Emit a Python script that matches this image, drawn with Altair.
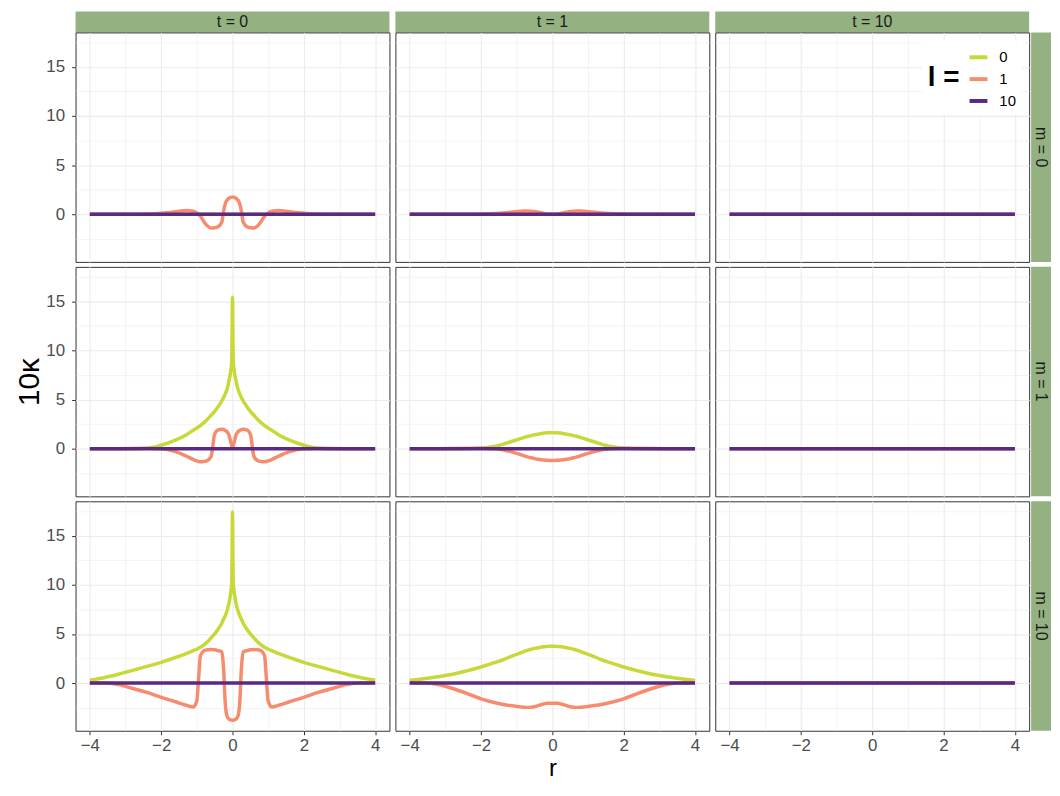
import altair as alt
import pandas as pd

FONT = "Liberation Sans"
GREEN = "#C6D937"
SALMON = "#F68B6D"
PURPLE = "#5A2A82"
STRIP = "#94B181"

m_levels = [0, 1, 10]
t_levels = [0, 1, 10]
l_levels = ["0", "1", "10"]

r_grid = [-4, -3.6, -3.2, -2.8, -2.4, -2.0, -1.6, -1.3, -1.1, -1.0, -0.95, -0.9, -0.8, -0.7, -0.6, -0.5,
          -0.4, -0.3, -0.25, -0.2, -0.15, -0.1, -0.05, -0.02, 0,
          0.02, 0.05, 0.1, 0.15, 0.2, 0.25, 0.3, 0.4, 0.5, 0.6, 0.7, 0.8, 0.9, 0.95, 1.0,
          1.1, 1.3, 1.6, 2.0, 2.4, 2.8, 3.2, 3.6, 4]
r_flat = [-4, 4]
flat = [0, 0]

# m = 0, t = 0, l = 1
m0_t0_l1 = [0, 0, 0, 0, 0.02, 0.1, 0.25, 0.38, 0.3, 0.12, 0.0, -0.2, -0.75, -1.2, -1.4, -1.38,
            -1.25, -0.8, 0.3, 1.1, 1.45, 1.62, 1.72, 1.74, 1.75,
            1.74, 1.72, 1.62, 1.45, 1.1, 0.3, -0.8, -1.25, -1.38, -1.4, -1.2, -0.75, -0.2, 0.0, 0.12,
            0.3, 0.38, 0.25, 0.1, 0.02, 0, 0, 0, 0]
# m = 0, t = 1, l = 1
m0_t1_l1 = [0, 0, 0, 0, 0, 0.02, 0.08, 0.16, 0.23, 0.27, 0.29, 0.3, 0.33, 0.33, 0.31, 0.27,
            0.21, 0.14, 0.1, 0.06, 0.03, 0.01, 0, 0, 0,
            0, 0, 0.01, 0.03, 0.06, 0.1, 0.14, 0.21, 0.27, 0.31, 0.33, 0.33, 0.3, 0.29, 0.27,
            0.23, 0.16, 0.08, 0.02, 0, 0, 0, 0, 0]
# m = 1, t = 0, l = 0
m1_t0_l0 = [0, 0, 0, 0, 0.05, 0.35, 0.87, 1.4, 1.88, 2.1, 2.22, 2.35, 2.65, 3.0, 3.4, 3.8,
            4.3, 4.85, 5.2, 5.6, 6.1, 6.9, 7.9, 9.0, 15.4,
            9.0, 7.9, 6.9, 6.1, 5.6, 5.2, 4.85, 4.3, 3.8, 3.4, 3.0, 2.65, 2.35, 2.22, 2.1,
            1.88, 1.4, 0.87, 0.35, 0.05, 0, 0, 0, 0]
# m = 1, t = 0, l = 1
m1_t0_l1 = [0, 0, 0, 0.01, 0.03, 0.0, -0.3, -0.75, -1.1, -1.25, -1.3, -1.33, -1.3, -1.2, -0.8, 1.5,
            1.9, 1.97, 1.95, 1.85, 1.7, 1.4, 0.7, 0.3, 0.1,
            0.3, 0.7, 1.4, 1.7, 1.85, 1.95, 1.97, 1.9, 1.5, -0.8, -1.2, -1.3, -1.33, -1.3, -1.25,
            -1.1, -0.75, -0.3, 0.0, 0.03, 0.01, 0, 0, 0]
# m = 1, t = 1, l = 0
m1_t1_l0 = [0, 0, 0, 0, 0.01, 0.05, 0.25, 0.55, 0.78, 0.9, 0.96, 1.02, 1.13, 1.24, 1.33, 1.41,
            1.48, 1.54, 1.57, 1.59, 1.61, 1.62, 1.63, 1.63, 1.63,
            1.63, 1.63, 1.62, 1.61, 1.59, 1.57, 1.54, 1.48, 1.41, 1.33, 1.24, 1.13, 1.02, 0.96, 0.9,
            0.78, 0.55, 0.25, 0.05, 0.01, 0, 0, 0, 0]
# m = 1, t = 1, l = 1
m1_t1_l1 = [0, 0, 0, 0.01, 0.03, 0.04, 0.0, -0.18, -0.37, -0.47, -0.53, -0.59, -0.71, -0.83, -0.93, -1.01,
            -1.08, -1.13, -1.15, -1.17, -1.18, -1.19, -1.2, -1.2, -1.2,
            -1.2, -1.2, -1.19, -1.18, -1.17, -1.15, -1.13, -1.08, -1.01, -0.93, -0.83, -0.71, -0.59, -0.53, -0.47,
            -0.37, -0.18, 0.0, 0.04, 0.03, 0.01, 0, 0, 0]
# m = 10, t = 0, l = 0
m10_t0_l0 = [0.3, 0.55, 0.9, 1.3, 1.7, 2.1, 2.6, 3.0, 3.3, 3.45, 3.55, 3.65, 3.9, 4.2, 4.6, 5.0,
             5.5, 6.1, 6.5, 6.9, 7.4, 8.1, 9.2, 10.3, 17.4,
             10.3, 9.2, 8.1, 7.4, 6.9, 6.5, 6.1, 5.5, 5.0, 4.6, 4.2, 3.9, 3.65, 3.55, 3.45,
             3.3, 3.0, 2.6, 2.1, 1.7, 1.3, 0.9, 0.55, 0.3]
# m = 10, t = 0, l = 1
m10_t0_l1 = [0, 0, -0.15, -0.55, -0.95, -1.45, -1.9, -2.25, -2.43, -1.8, 0.5, 2.8, 3.3, 3.4, 3.42, 3.4,
             3.3, 3.2, 1.5, -2.2, -3.4, -3.65, -3.75, -3.78, -3.78,
             -3.78, -3.75, -3.65, -3.4, -2.2, 1.5, 3.2, 3.3, 3.4, 3.42, 3.4, 3.3, 2.8, 0.5, -1.8,
             -2.43, -2.25, -1.9, -1.45, -0.95, -0.55, -0.15, 0, 0]
# m = 10, t = 1, l = 0
m10_t1_l0 = [0.27, 0.45, 0.65, 0.9, 1.25, 1.64, 2.1, 2.5, 2.8, 2.92, 3.0, 3.07, 3.2, 3.33, 3.44, 3.53,
             3.6, 3.66, 3.69, 3.71, 3.73, 3.74, 3.75, 3.75, 3.75,
             3.75, 3.75, 3.74, 3.73, 3.71, 3.69, 3.66, 3.6, 3.53, 3.44, 3.33, 3.2, 3.07, 3.0, 2.92,
             2.8, 2.5, 2.1, 1.64, 1.25, 0.9, 0.65, 0.45, 0.27]
# m = 10, t = 1, l = 1
m10_t1_l1 = [0, 0, -0.15, -0.55, -1.05, -1.6, -2.0, -2.22, -2.32, -2.37, -2.4, -2.42, -2.46, -2.47, -2.45, -2.4,
             -2.3, -2.18, -2.13, -2.09, -2.06, -2.05, -2.04, -2.04, -2.04,
             -2.04, -2.04, -2.05, -2.06, -2.09, -2.13, -2.18, -2.3, -2.4, -2.45, -2.47, -2.46, -2.42, -2.4, -2.37,
             -2.32, -2.22, -2.0, -1.6, -1.05, -0.55, -0.15, 0, 0]

curves = {
    (0, 0, "1"): (r_grid, m0_t0_l1),
    (0, 1, "1"): (r_grid, m0_t1_l1),
    (1, 0, "0"): (r_grid, m1_t0_l0),
    (1, 0, "1"): (r_grid, m1_t0_l1),
    (1, 1, "0"): (r_grid, m1_t1_l0),
    (1, 1, "1"): (r_grid, m1_t1_l1),
    (10, 0, "0"): (r_grid, m10_t0_l0),
    (10, 0, "1"): (r_grid, m10_t0_l1),
    (10, 1, "0"): (r_grid, m10_t1_l0),
    (10, 1, "1"): (r_grid, m10_t1_l1),
}

rows = []
for m in m_levels:
    for t in t_levels:
        for l in l_levels:
            rr, vv = curves.get((m, t, l), (r_flat, flat))
            for i, (a, b) in enumerate(zip(rr, vv)):
                rows.append({"m": m, "t": t, "l": l, "r": a, "v": b, "i": i})
df = pd.DataFrame(rows)

PW, PH = 316, 231
SH = 16  # strip row height (the strip band also covers the 5px gap below it)
XDOM = [-4.4, 4.4]
YDOM = [-4.85, 18.5]
major_x = "datum.value % 2 === 0"
major_y = "datum.value % 5 === 0"

color_scale = alt.Scale(domain=l_levels, range=[GREEN, SALMON, PURPLE])
legend = alt.Legend(
    title="l =", orient="none", legendX=852, legendY=29, titleOrient="left",
    titleFontSize=28, titleFontWeight="bold", titleColor="black", titlePadding=8,
    titleAnchor="middle", titleBaseline="middle",
    symbolType="stroke", symbolStrokeWidth=4, symbolSize=324,
    labelFontSize=15, labelColor="black", labelOffset=10, rowPadding=3,
    fillColor="white", padding=6,
)


def panel(mi, ti):
    m, t = m_levels[mi], t_levels[ti]
    show_x = mi == 2
    show_y = ti == 0
    xa = alt.Axis(
        values=[-4, -3, -2, -1, 0, 1, 2, 3, 4],
        labelExpr=f"{major_x} ? datum.label : ''",
        labels=show_x, ticks=show_x, domain=False, grid=True,
        gridColor="#EBEBEB",
        gridWidth={"condition": {"test": major_x, "value": 1.1}, "value": 0.6},
        tickOpacity={"condition": {"test": major_x, "value": 1}, "value": 0},
        tickColor="#333333", tickSize=4, labelFontSize=17, labelColor="#4D4D4D", labelPadding=3,
        title="r" if (show_x and ti == 1) else None,
        titleFontSize=24, titleFontWeight="normal", titleColor="black", titlePadding=3,
    )
    ya = alt.Axis(
        values=[-2.5, 0, 2.5, 5, 7.5, 10, 12.5, 15, 17.5],
        labelExpr=f"{major_y} ? datum.label : ''",
        labels=show_y, ticks=show_y, domain=False, grid=True,
        gridColor="#EBEBEB",
        gridWidth={"condition": {"test": major_y, "value": 1.1}, "value": 0.6},
        tickOpacity={"condition": {"test": major_y, "value": 1}, "value": 0},
        tickColor="#333333", tickSize=4, labelFontSize=17, labelColor="#4D4D4D", labelPadding=7,
        title="10κ" if (show_y and mi == 1) else None,
        titleFontSize=30, titleFontWeight="normal", titleColor="black", titlePadding=1,
    )
    layers = []
    for l in l_levels:
        d = df[(df.m == m) & (df.t == t) & (df.l == l)]
        layers.append(alt.Chart(d).mark_line(strokeWidth=3.5, interpolate="monotone").encode(
            x=alt.X("r:Q", scale=alt.Scale(domain=XDOM, nice=False, zero=False), axis=xa),
            y=alt.Y("v:Q", scale=alt.Scale(domain=YDOM, nice=False, zero=False), axis=ya),
            color=alt.Color("l:N", scale=color_scale, legend=legend),
            order="i:Q",
        ))
    return alt.layer(*layers).properties(
        width=PW, height=PH, view=alt.ViewBackground(stroke="#333333", strokeWidth=1, fill="white"))


def top_strip(label):
    d = pd.DataFrame({"lab": [label]})
    base = alt.Chart(d)
    rect = base.mark_rect(color=STRIP).encode(
        x=alt.value(0), x2=alt.value(PW), y=alt.value(0), y2=alt.value(SH + 5))
    txt = base.mark_text(font=FONT, fontSize=16, color="#1A1A1A", baseline="middle", align="center").encode(
        x=alt.value(PW / 2), y=alt.value((SH + 5) / 2), text="lab:N")
    return alt.layer(rect, txt).properties(width=PW, height=SH)


def side_strip(label):
    d = pd.DataFrame({"lab": [label]})
    base = alt.Chart(d)
    rect = base.mark_rect(color=STRIP).encode(
        x=alt.value(-4), x2=alt.value(16), y=alt.value(0), y2=alt.value(PH))
    txt = base.mark_text(font=FONT, fontSize=16, color="#1A1A1A", baseline="middle", align="center",
                         angle=90).encode(x=alt.value(6), y=alt.value(PH / 2), text="lab:N")
    return alt.layer(rect, txt).properties(width=16, height=PH)


blank = alt.Chart(pd.DataFrame({"a": [0]})).mark_rect(opacity=0).encode(
    x=alt.value(0), x2=alt.value(16), y=alt.value(0), y2=alt.value(SH)).properties(width=16, height=SH)

cells = [top_strip(f"t = {t}") for t in t_levels] + [blank]
for mi, m in enumerate(m_levels):
    for ti in range(3):
        cells.append(panel(mi, ti))
    cells.append(side_strip(f"m = {m}"))

chart = alt.concat(*cells, columns=4, spacing={"row": 5, "column": 6}).properties(
    align="each", bounds="flush",
    padding={"left": 6, "top": 0, "right": 0, "bottom": 0},
).configure(font=FONT).configure_view(stroke="transparent")

chart.save("out.html", embed_options={"renderer": "svg", "actions": False})
